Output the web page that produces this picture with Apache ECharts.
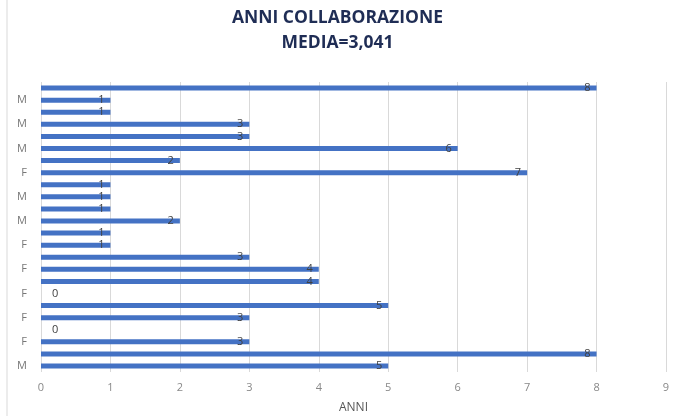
<!DOCTYPE html>
<html><head><meta charset="utf-8">
<script src="https://cdn.jsdelivr.net/npm/echarts@6/dist/echarts.min.js"></script>
<style>html,body{margin:0;padding:0;background:#fff}#c{width:675px;height:416px}</style>
</head><body><div id="c"></div>
<script>
// bottom to top
var categories = ['M','M','F','F','F','F','F','F','F','F','F','F','M','M','M','M','F','F','M','M','M','M','M','M'];
var values = [5,8,3,0,3,5,0,4,4,3,1,1,2,1,1,1,7,2,6,3,3,1,1,8];
var xTicks = [0,1,2,3,4,5,6,7,8,9];
var titleLines = ['ANNI COLLABORAZIONE','MEDIA=3,041'];

var chart = echarts.init(document.getElementById('c'));
var seriesData = values.map(function(v){
  return v === 0
    ? {value:v, label:{position:'right', distance:11}}
    : {value:v};
});
chart.setOption({
  animation:false,
  graphic:[{type:'line',shape:{x1:7,y1:0,x2:7,y2:416},style:{stroke:'#d9d9d9',lineWidth:1}}],
  title:{
    text:titleLines.join('\n'), left:'center', top:1,
    textStyle:{fontFamily:'Open Sans', fontSize:17.5, fontWeight:'bold', color:'#1f2d55', lineHeight:25}
  },
  grid:{left:41, right:9, top:82, bottom:44, outerBoundsMode:'none', containLabel:false},
  xAxis:{
    type:'value', min:xTicks[0], max:xTicks[xTicks.length-1], interval:1,
    name:'ANNI', nameLocation:'middle', nameGap:30,
    nameTextStyle:{fontFamily:'Open Sans', fontSize:12, color:'#555'},
    axisLine:{show:false}, axisTick:{show:false},
    axisLabel:{fontFamily:'Open Sans', fontSize:11, color:'#888', margin:10},
    splitLine:{show:true, lineStyle:{color:'#d9d9d9', width:1}}
  },
  yAxis:{
    type:'category', data:categories,
    axisLine:{show:false}, axisTick:{show:false},
    axisLabel:{interval:1, fontFamily:'Open Sans', fontSize:11, color:'#777', margin:14}
  },
  series:[{
    type:'bar', data:seriesData, barWidth:5,
    itemStyle:{color:'#4472c4'},
    label:{show:true, position:'insideRight', distance:6, color:'#404040',
      fontFamily:'Open Sans', fontSize:11}
  }]
});
</script></body></html>
